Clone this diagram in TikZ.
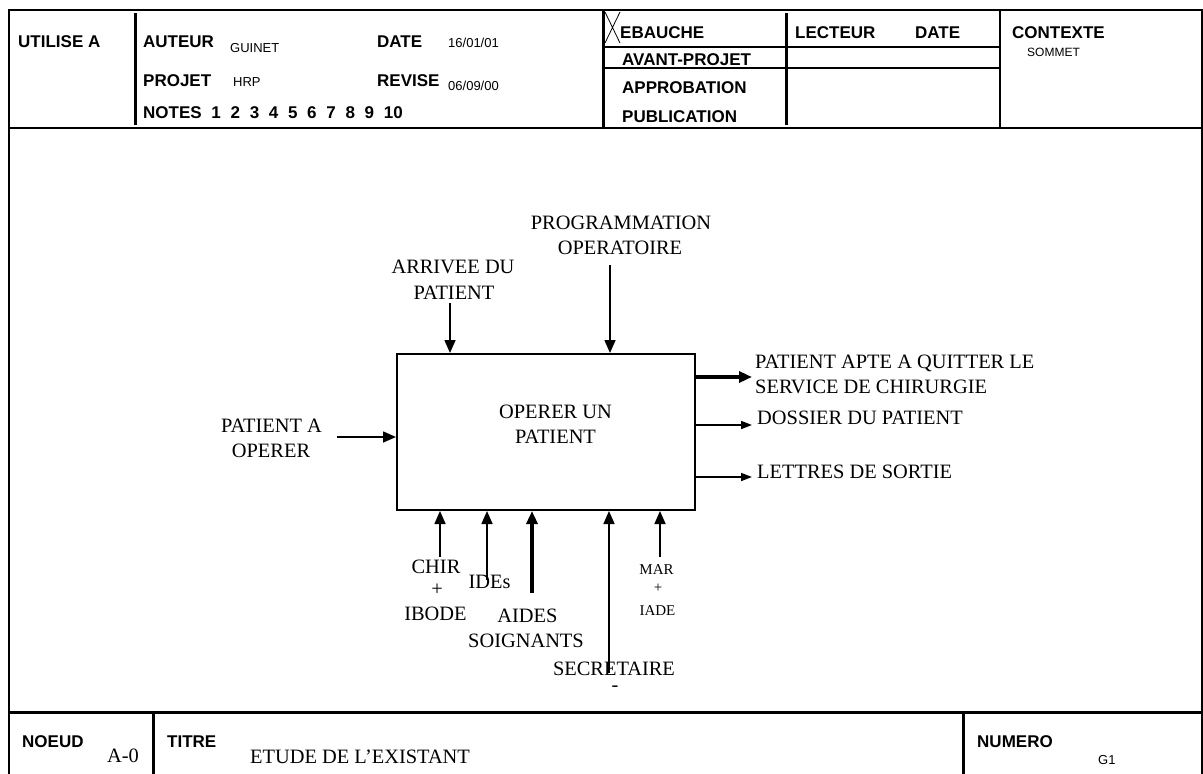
\documentclass[tikz,border=0pt]{standalone}
\usepackage{fontspec}
\setmainfont{Liberation Serif}
\newfontfamily\hsans{Liberation Sans}
\usetikzlibrary{arrows.meta}
\newcommand\hdrbold{\hsans\bfseries\fontsize{17}{20}\selectfont}
\newcommand\hdrsmall{\hsans\fontsize{13}{15}\selectfont}
\newcommand\hdrtiny{\hsans\fontsize{12}{14}\selectfont}
\newcommand\serifmain{\rmfamily\fontsize{20.4}{25}\selectfont}
\newcommand\serifsmall{\rmfamily\fontsize{15}{18}\selectfont}
\begin{document}
\begin{tikzpicture}[x=1pt,y=-1pt,
  hb/.style={font=\hdrbold, inner sep=0pt, anchor=base west},
  hs/.style={font=\hdrsmall, inner sep=0pt, anchor=base west},
  ht/.style={font=\hdrtiny, inner sep=0pt, anchor=base west},
  lbl/.style={font=\serifmain, inner sep=0pt, anchor=base},
  lblw/.style={font=\serifmain, inner sep=0pt, anchor=base west},
  lbls/.style={font=\serifsmall, inner sep=0pt, anchor=base},
  frameline/.style={line width=2pt},
  thickline/.style={line width=3pt},
  thinline/.style={line width=1.3pt},
  arr/.style={line width=1.6pt, -{Triangle[length=13pt,width=11pt]}},
  arrs/.style={line width=1.6pt, -{Triangle[length=11pt,width=8pt]}},
  arrb/.style={line width=3.5pt, -{Triangle[length=13pt,width=11pt]}},
  procbox/.style={draw, line width=2pt, minimum width=298pt, minimum height=156pt, inner sep=0pt}
]
\useasboundingbox (0,0) rectangle (1203,774);
% frame
\draw[frameline] (9,774) -- (9,10) -- (1202,10) -- (1202,774);
\draw[frameline] (9,128) -- (1202,128);
\draw[thickline] (9,712) -- (1202,712);
\draw[thickline] (135,13) -- (135,125);
\draw[thickline] (603,11) -- (603,128);
\draw[thickline] (786,13) -- (786,125);
\draw[frameline] (1000,10) -- (1000,128);
\draw[frameline] (603,47) -- (1000,47);
\draw[thinline] (603,68) -- (1000,68);
\draw[thickline] (153,712) -- (153,774);
\draw[thickline] (963,712) -- (963,774);
\draw[line width=0.8pt] (605,12) -- (620,43) (620,12) -- (605,43);
% header texts
\node[hb] (utilise) at (18,47) {UTILISE A};
\node[hb] (auteur) at (143,47) {AUTEUR};
\node[hs] (guinet) at (230,52) {GUINET};
\node[hb] (date1) at (377,47) {DATE};
\node[hs] (dateval) at (448,47) {16/01/01};
\node[hb] (projet) at (143,86) {PROJET};
\node[hs] (hrp) at (233,86) {HRP};
\node[hb] (revise) at (377,86) {REVISE};
\node[hs] (reviseval) at (448,90) {06/09/00};
\node[hb] (notes) at (143,118) {\spaceskip=9.7pt NOTES 1 2 3 4 5 6 7 8 9 10};
\node[hb] (ebauche) at (620,38) {EBAUCHE};
\node[hb] (avant) at (622,65) {AVANT-PROJET};
\node[hb] (approb) at (622,93) {APPROBATION};
\node[hb] (publi) at (622,122) {PUBLICATION};
\node[hb] (lecteur) at (795,38) {LECTEUR};
\node[hb] (date2) at (915,38) {DATE};
\node[hb] (contexte) at (1012,38) {CONTEXTE};
\node[ht] (sommet) at (1027,56) {SOMMET};
% footer texts
\node[hb] (noeud) at (22,747) {NOEUD};
\node[lblw] (noeudval) at (107,762) {A-0};
\node[hb] (titre) at (167,747) {TITRE};
\node[lblw] (titreval) at (250,763) {ETUDE DE L’EXISTANT};
\node[hb] (numero) at (977,747) {NUMERO};
\node[hs] (numeroval) at (1098,764) {G1};
% activity box
\node[procbox] (box) at (546,432) {};
\node[lbl] (boxa) at (555.5,418) {OPERER UN};
\node[lbl] (boxb) at (555.5,443) {PATIENT};
% input
\node[lbl] (ina) at (271.5,432) {PATIENT A};
\node[lbl] (inb) at (271,457) {OPERER};
\coordinate (ins) at (337,437);
\draw[arr] (ins) -- (ins -| box.west);
% controls
\node[lbl] (c1a) at (453,273) {ARRIVEE DU};
\node[lbl] (c1b) at (454,299) {PATIENT};
\coordinate (c1s) at (450,303);
\draw[arr] (c1s) -- (c1s |- box.north);
\node[lbl] (c2a) at (621,229) {PROGRAMMATION};
\node[lbl] (c2b) at (620,254) {OPERATOIRE};
\coordinate (c2s) at (610,265);
\draw[arr] (c2s) -- (c2s |- box.north);
% outputs
\coordinate (o1) at (752,377);
\draw[arrb] (o1 -| box.east) -- (o1);
\node[lblw] (o1a) at (755,368) {PATIENT APTE A QUITTER LE};
\node[lblw] (o1b) at (755,393) {SERVICE DE CHIRURGIE};
\coordinate (o2) at (752,425);
\draw[arrs] (o2 -| box.east) -- (o2);
\node[lblw] (o2a) at (757,424) {DOSSIER DU PATIENT};
\coordinate (o3) at (752,477);
\draw[arrs] (o3 -| box.east) -- (o3);
\node[lblw] (o3a) at (757,478) {LETTRES DE SORTIE};
% mechanisms
\node[lbl] (m1a) at (436,573) {CHIR};
\node[lbl] (m1b) at (437,595) {+};
\node[lbl] (m1c) at (435.5,620) {IBODE};
\coordinate (m1s) at (440,557);
\draw[arr] (m1s) -- (m1s |- box.south);
\node[lbl] (m2a) at (489.5,588) {IDEs};
\coordinate (m2s) at (487,580);
\draw[arr] (m2s) -- (m2s |- box.south);
\node[lbl] (m3a) at (527.5,622) {AIDES};
\node[lbl] (m3b) at (526,647) {SOIGNANTS};
\coordinate (m3s) at (532,593);
\draw[arrb] (m3s) -- (m3s |- box.south);
\node[lbl] (m4a) at (614,675) {SECRETAIRE};
\node[lbl] (m4b) at (615,691) {-};
\coordinate (m4s) at (609,673);
\draw[arr] (m4s) -- (m4s |- box.south);
\node[lbls] (m5a) at (656.5,574) {MAR};
\node[lbls] (m5b) at (658,592) {+};
\node[lbls] (m5c) at (657.5,615) {IADE};
\coordinate (m5s) at (660,557);
\draw[arr] (m5s) -- (m5s |- box.south);
\end{tikzpicture}
\end{document}
